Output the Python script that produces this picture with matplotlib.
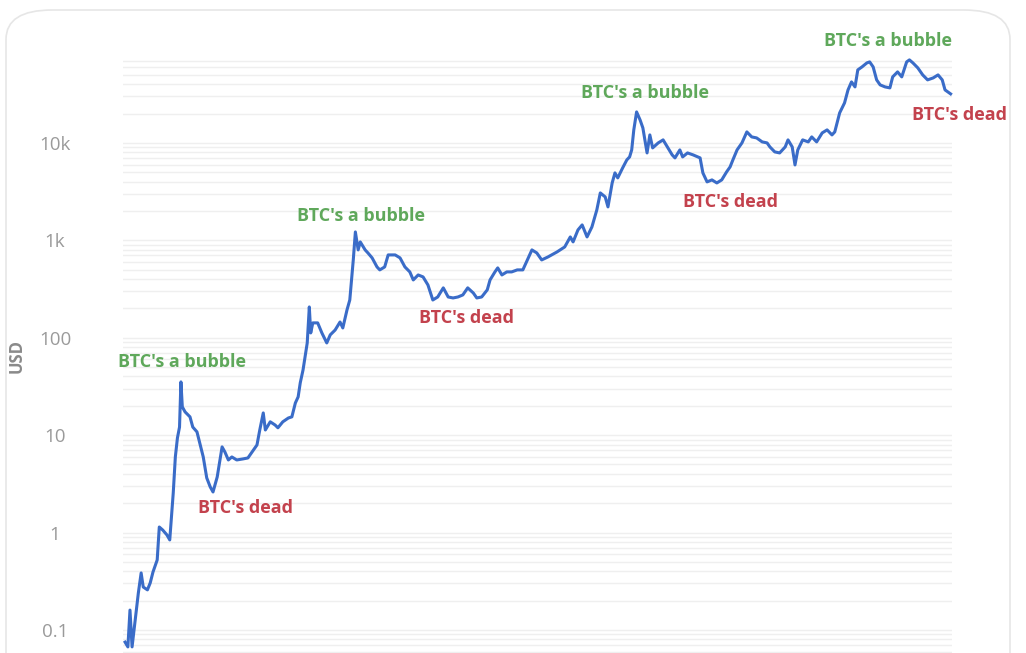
import matplotlib
matplotlib.use("Agg")
from matplotlib import pyplot as plt
from matplotlib.patches import FancyBboxPatch
from matplotlib.ticker import FixedLocator, LogLocator, NullFormatter

# BTC price path (decimal year, USD)
years = [
    2010.65, 2010.69, 2010.72, 2010.75, 2010.79, 2010.84, 2010.88, 2010.91,
    2010.97, 2011.01, 2011.05, 2011.11, 2011.14, 2011.19, 2011.25, 2011.29,
    2011.34, 2011.37, 2011.40, 2011.43, 2011.45, 2011.47, 2011.51, 2011.58,
    2011.62, 2011.68, 2011.72, 2011.77, 2011.82, 2011.87, 2011.91, 2011.97,
    2012.04, 2012.08, 2012.13, 2012.18, 2012.25, 2012.34, 2012.41, 2012.47,
    2012.54, 2012.58, 2012.63, 2012.66, 2012.73, 2012.80, 2012.84, 2012.91,
    2012.99, 2013.04, 2013.09, 2013.13, 2013.16, 2013.20, 2013.26, 2013.29,
    2013.31, 2013.34, 2013.41, 2013.47, 2013.54, 2013.59, 2013.66, 2013.73,
    2013.77, 2013.83, 2013.87, 2013.92, 2013.95, 2013.99, 2014.02, 2014.09,
    2014.13, 2014.19, 2014.26, 2014.30, 2014.37, 2014.42, 2014.52, 2014.59,
    2014.66, 2014.73, 2014.78, 2014.85, 2014.92, 2014.99, 2015.06, 2015.13,
    2015.21, 2015.28, 2015.35, 2015.42, 2015.49, 2015.56, 2015.64, 2015.69,
    2015.76, 2015.84, 2015.88, 2015.95, 2015.99, 2016.05, 2016.12, 2016.19,
    2016.27, 2016.35, 2016.48, 2016.55, 2016.62, 2016.71, 2016.84, 2016.95,
    2017.03, 2017.07, 2017.14, 2017.20, 2017.27, 2017.34, 2017.41, 2017.46,
    2017.53, 2017.57, 2017.63, 2017.67, 2017.71, 2017.78, 2017.84, 2017.88,
    2017.91, 2017.94, 2017.98, 2018.03, 2018.07, 2018.13, 2018.17, 2018.21,
    2018.29, 2018.36, 2018.42, 2018.49, 2018.53, 2018.60, 2018.64, 2018.71,
    2018.79, 2018.89, 2018.93, 2018.99, 2019.06, 2019.13, 2019.20, 2019.27,
    2019.32, 2019.36, 2019.42, 2019.49, 2019.56, 2019.63, 2019.70, 2019.78,
    2019.85, 2019.89, 2019.96, 2020.03, 2020.11, 2020.15, 2020.21, 2020.25,
    2020.29, 2020.36, 2020.44, 2020.49, 2020.56, 2020.64, 2020.71, 2020.78,
    2020.82, 2020.89, 2020.96, 2021.01, 2021.06, 2021.11, 2021.15, 2021.21,
    2021.28, 2021.32, 2021.37, 2021.42, 2021.47, 2021.54, 2021.61, 2021.65,
    2021.72, 2021.78, 2021.85, 2021.89, 2021.94, 2022.01, 2022.08, 2022.15,
    2022.23, 2022.30, 2022.36, 2022.40, 2022.44, 2022.48,
]
prices = [
    0.075, 0.067, 0.16, 0.067, 0.118, 0.24, 0.385, 0.276,
    0.258, 0.304, 0.394, 0.523, 1.14, 1.06, 0.944, 0.84,
    2.55, 5.97, 9.36, 12.1, 35.2, 19.5, 17.3, 15.4,
    12.1, 10.8, 8.32, 5.97, 3.64, 2.94, 2.61, 3.72,
    7.57, 6.72, 5.56, 5.97, 5.56, 5.70, 5.83, 6.72,
    7.93, 11.3, 16.9, 11.3, 13.7, 12.7, 11.9, 13.7,
    15.0, 15.4, 21.4, 24.7, 34.4, 46.7, 88.4, 207,
    112, 142, 142, 112, 88.4, 107, 120, 145,
    126, 193, 244, 629, 1219, 797, 963, 797,
    742, 660, 533, 497, 533, 708, 708, 660,
    533, 474, 392, 441, 421, 348, 244, 262,
    325, 262, 256, 262, 275, 325, 288, 256,
    262, 310, 392, 474, 521, 441, 474, 474,
    497, 497, 797, 742, 629, 675, 760, 855,
    1083, 963, 1279, 1439, 1083, 1373, 2051, 3066,
    2790, 2203, 3882, 4920, 4372, 5536, 6690, 7180,
    8475, 13600, 20800, 17220, 14260, 7890, 12080, 8885,
    10000, 10740, 9100, 7530, 7015, 8475, 7180, 7890,
    7530, 7015, 4920, 3978, 4170, 3882, 4170, 5040,
    5670, 6690, 8475, 10000, 12970, 11520, 11250, 10240,
    10000, 9100, 8085, 7890, 9100, 10740, 9100, 5940,
    8475, 10740, 10240, 11520, 10240, 12670, 13600, 12080,
    12970, 20320, 25740, 35000, 42300, 37580, 56170, 60260,
    66250, 67850, 60260, 44360, 39400, 37580, 36700, 47620,
    53570, 47620, 67850, 71150, 66250, 58900, 49900, 44360,
    46450, 49900, 44360, 35000, 33390, 31850,
]

# annotation anchors (year, price) and their texts
note_years = [2011.47, 2012.38, 2014.03, 2015.54, 2018.10, 2019.32, 2021.58, 2022.61]
note_prices = [56.5, 1.79, 1780, 160, 32600, 2477, 111400, 19360]
note_texts = ["BTC's a bubble", "BTC's dead"] * 4

tick_values = [0.1, 1, 10, 100, 1000, 10000]
tick_labels = ["0.1", "1", "10", "100", "1k", "10k"]

GREEN = "#5fa85b"
RED = "#c3424d"
LINE = "#3a6cc8"

plt.rcParams["font.family"] = ["Open Sans", "DejaVu Sans"]

fig = plt.figure(figsize=(10.26, 6.53), dpi=100)
fig.patch.set_facecolor("white")

# rounded card outline
card = FancyBboxPatch((6 / 1026, -0.2), 1004 / 1026, 1.2 - 10 / 653,
                      boxstyle="round,pad=0,rounding_size=0.045",
                      transform=fig.transFigure, facecolor="none",
                      edgecolor="#e6e6e6", linewidth=1.2, zorder=-1)
fig.patches.append(card)

ax = fig.add_axes([123 / 1026, 0.0, 829 / 1026, 1 - 56 / 653])
ax.set_facecolor("none")
ax.set_yscale("log")
ax.set_xlim(2010.62, 2022.50)
ax.set_ylim(0.058, 78000)

ax.plot(years, prices, color=LINE, linewidth=2.2, solid_joinstyle="round",
        clip_on=False, zorder=3)

for x, y, t in zip(note_years, note_prices, note_texts):
    ax.text(x, y, t, color=GREEN if "bubble" in t else RED, fontsize=13,
            fontweight="bold", ha="center", va="center", clip_on=False,
            zorder=4)

# faint horizontal grid on every log step
ax.yaxis.set_major_locator(FixedLocator(tick_values))
ax.yaxis.set_minor_locator(LogLocator(base=10, subs=range(2, 10), numticks=20))
ax.yaxis.set_minor_formatter(NullFormatter())
ax.set_yticklabels(tick_labels)
ax.grid(True, which="both", axis="y", color="#efefef", linewidth=1.0)
ax.set_xticks([])
ax.tick_params(axis="y", which="both", length=0, pad=49, labelsize=13.5,
               labelcolor="#9a9a9a")
for lab in ax.get_yticklabels():
    lab.set_horizontalalignment("center")
for s in ax.spines.values():
    s.set_visible(False)

fig.text(17 / 1026, 1 - 356 / 653, "USD", rotation=90, ha="center",
         va="center", fontsize=12, fontweight="bold", color="#8a8a8a")

plt.savefig("out.png", dpi=100)
